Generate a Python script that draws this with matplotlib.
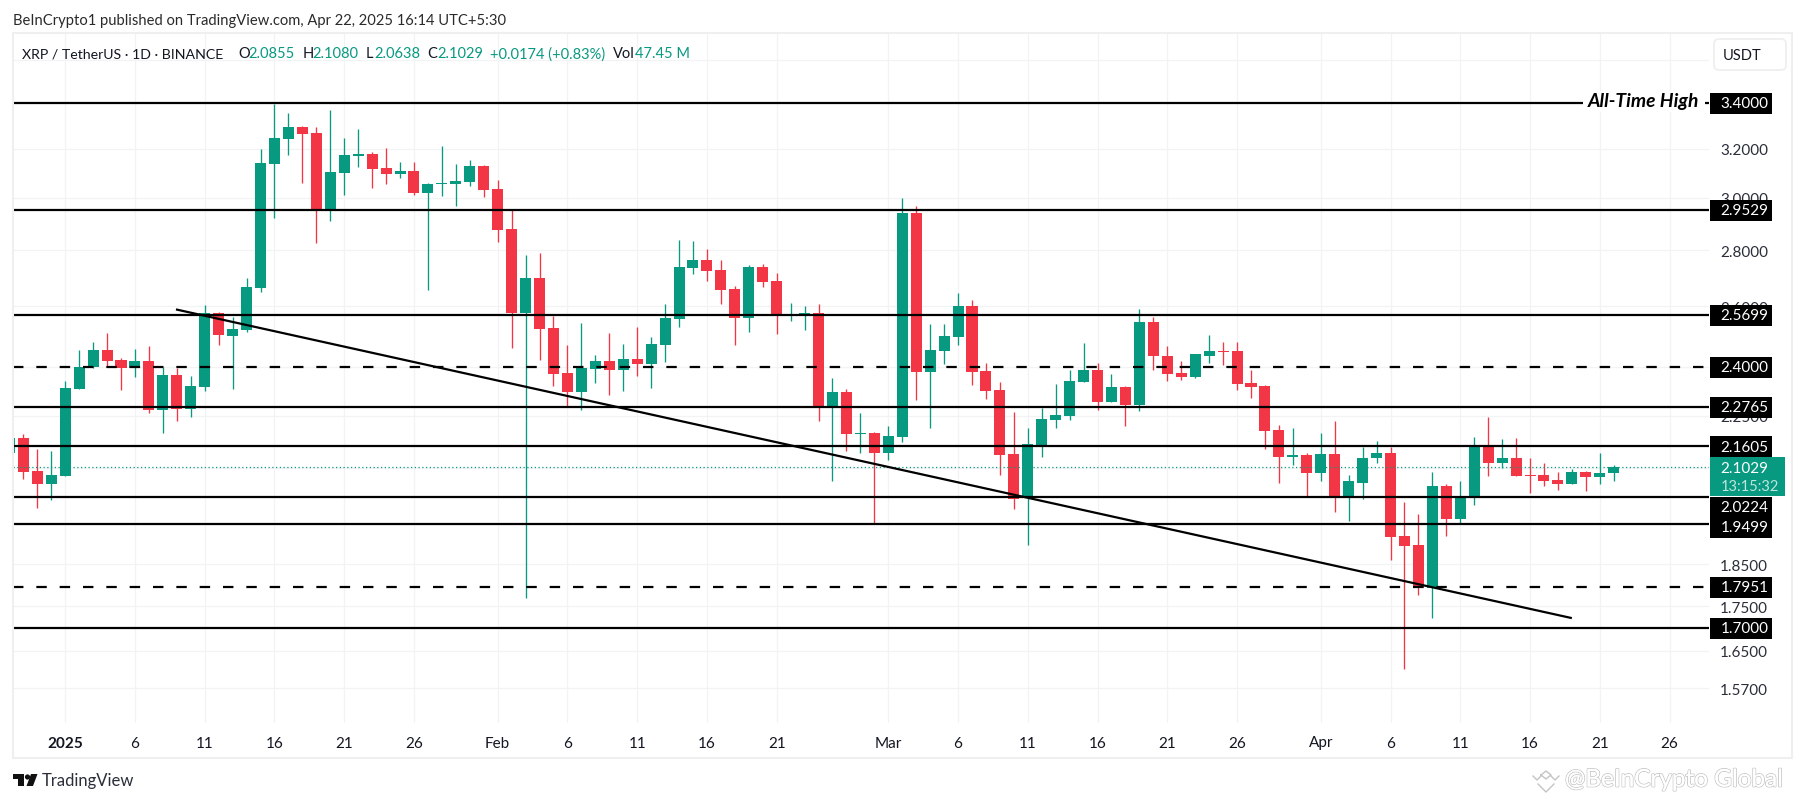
import matplotlib
matplotlib.use("Agg")
import matplotlib.pyplot as plt
import matplotlib.patheffects as pe
from matplotlib.patches import Rectangle, Polygon, Circle, FancyBboxPatch
from matplotlib.lines import Line2D
from matplotlib.transforms import Affine2D
from matplotlib.ticker import FixedLocator, NullLocator

plt.rcParams['font.family'] = ['Lato', 'DejaVu Sans']

W, H = 1804, 803

# days since 1 Jan 2025, first candle = -4
first_day = -4
opens = [2.143,2.184,2.093,2.055,2.079,2.330,2.399,2.453,2.421,2.395,2.418,2.266,2.373,2.269,2.336,2.576,2.499,2.519,2.663,3.137,
         3.242,3.294,3.268,2.952,3.100,3.170,3.178,3.120,3.096,3.108,3.019,3.055,3.055,3.063,3.128,3.035,2.879,2.576,2.698,2.526,
         2.380,2.321,2.392,2.418,2.389,2.424,2.408,2.469,2.555,2.734,2.763,2.727,2.660,2.559,2.738,2.688,2.569,2.573,2.576,2.278,
         2.321,2.195,2.198,2.141,2.187,2.940,2.383,2.450,2.496,2.600,2.386,2.327,2.138,2.022,2.166,2.236,2.248,2.352,2.389,2.290,
         2.336,2.281,2.546,2.434,2.380,2.367,2.434,2.450,2.450,2.349,2.339,2.207,2.132,2.135,2.085,2.138,2.022,2.060,2.127,2.143,
         1.920,1.898,1.793,2.052,1.962,2.022,2.161,2.115,2.127,2.082,2.082,2.066,2.057,2.088,2.074,2.0855]
highs = [2.184,2.195,2.152,2.149,2.355,2.453,2.479,2.509,2.427,2.456,2.466,2.399,2.395,2.370,2.603,2.580,2.562,2.698,3.199,3.396,
         3.355,3.299,3.294,3.369,3.247,3.285,3.187,3.204,3.145,3.145,3.059,3.212,3.137,3.153,3.132,3.071,2.952,2.782,2.789,2.566,
         2.469,2.542,2.437,2.509,2.473,2.529,2.496,2.607,2.837,2.833,2.804,2.763,2.670,2.745,2.749,2.716,2.611,2.600,2.607,2.364,
         2.330,2.257,2.201,2.219,2.999,2.967,2.539,2.539,2.645,2.621,2.411,2.352,2.260,2.213,2.272,2.346,2.389,2.476,2.411,2.377,
         2.339,2.590,2.562,2.466,2.418,2.442,2.502,2.479,2.479,2.389,2.342,2.224,2.213,2.141,2.198,2.233,2.082,2.158,2.175,2.158,
         2.009,1.975,2.088,2.055,2.063,2.187,2.245,2.181,2.184,2.129,2.113,2.088,2.096,2.093,2.141,2.1080]
lows = [2.143,2.071,1.993,2.012,2.079,2.330,2.395,2.399,2.327,2.367,2.257,2.198,2.233,2.245,2.324,2.469,2.330,2.512,2.649,2.921,
        3.174,3.059,2.826,2.909,3.011,3.124,3.039,3.055,3.079,3.011,2.656,3.007,2.967,3.047,3.003,2.830,2.459,1.770,2.421,2.339,
        2.278,2.266,2.349,2.311,2.324,2.370,2.333,2.415,2.529,2.713,2.688,2.607,2.469,2.512,2.666,2.506,2.549,2.519,2.233,2.063,
        2.149,2.143,1.951,2.121,2.172,2.296,2.213,2.408,2.469,2.342,2.299,2.082,1.990,1.898,2.132,2.213,2.236,2.352,2.266,2.290,
        2.221,2.263,2.389,2.355,2.358,2.364,2.411,2.405,2.327,2.302,2.152,2.060,2.107,2.022,2.063,1.982,1.959,2.015,2.113,1.860,
        1.611,1.777,1.722,1.920,1.951,2.001,2.079,2.101,2.079,2.033,2.052,2.041,2.057,2.038,2.057,2.0638]
closes = [2.184,2.090,2.055,2.082,2.333,2.399,2.453,2.418,2.395,2.418,2.266,2.373,2.269,2.339,2.576,2.502,2.522,2.666,3.141,3.247,
          3.294,3.264,2.952,3.104,3.174,3.178,3.116,3.096,3.108,3.019,3.055,3.059,3.067,3.128,3.031,2.875,2.576,2.698,2.522,2.377,
          2.321,2.395,2.418,2.389,2.424,2.408,2.473,2.559,2.738,2.763,2.723,2.656,2.559,2.738,2.684,2.569,2.573,2.576,2.278,2.321,
          2.195,2.198,2.141,2.190,2.940,2.383,2.453,2.499,2.600,2.383,2.324,2.135,2.017,2.169,2.239,2.251,2.355,2.389,2.290,2.336,
          2.281,2.546,2.434,2.377,2.367,2.440,2.450,2.447,2.346,2.336,2.204,2.132,2.135,2.085,2.138,2.022,2.063,2.129,2.143,1.918,
          1.895,1.793,2.052,1.962,2.022,2.161,2.115,2.127,2.079,2.079,2.063,2.057,2.088,2.074,2.085,2.1029]

solid_levels = [3.4000, 2.9529, 2.5699, 2.2765, 2.1605, 2.0224, 1.9499, 1.7000]
dashed_levels = [2.4000, 1.7951]
last_price = 2.1029
countdown = "13:15:32"
label_shift = {2.0224: 10.5, 1.9499: 3.0}

trend_days = [7.94, 108.0]
trend_prices = [2.589, 1.7225]

y_ticks = [1.57, 1.65, 1.75, 1.85, 1.95, 2.10, 2.25, 2.40, 2.60, 2.80, 3.00, 3.20, 3.40, 3.60]
y_tick_labels = ["1.5700", "1.6500", "1.7500", "1.8500", "", "", "2.2500", "", "2.6000", "2.8000", "3.0000", "3.2000", "", ""]
x_ticks = [0, 5, 10, 15, 20, 25, 31, 36, 41, 46, 51, 59, 64, 69, 74, 79, 84, 90, 95, 100, 105, 110, 115]
x_labels = ["2025", "6", "11", "16", "21", "26", "Feb", "6", "11", "16", "21", "Mar", "6", "11", "16", "21", "26",
            "Apr", "6", "11", "16", "21", "26"]

GREEN = "#089981"
RED = "#F23645"
TXT = "#131722"
GRID = "#f2f3f5"

fig = plt.figure(figsize=(W / 100, H / 100), dpi=100, facecolor="white")
# overlay coordinates: reference pixels, drawn 1 px lower
T = Affine2D().translate(0, 1).scale(1 / W, -1 / H).translate(0, 1) + fig.transFigure
ax = fig.add_axes([13 / W, 1 - 724 / H, (1709 - 13) / W, (724 - 34) / H])
ax.set_yscale("log")
ax.set_xlim(-3.742, 117.83)
ax.set_ylim(1.4998, 3.729)
for s in ax.spines.values():
    s.set_visible(False)

ax.set_axisbelow(True)
ax.yaxis.set_major_locator(FixedLocator(y_ticks))
ax.yaxis.set_minor_locator(NullLocator())
ax.set_yticklabels(y_tick_labels)
ax.yaxis.tick_right()
ax.tick_params(axis="y", length=0, pad=8, labelsize=11, labelcolor="#2a2e39", which="both")
ax.set_xticks(x_ticks)
ax.set_xticklabels(x_labels)
ax.tick_params(axis="x", length=0, pad=9, labelsize=11, labelcolor=TXT)
ax.get_xticklabels()[0].set_fontweight("bold")
ax.grid(True, color=GRID, lw=0.9)

for i, (o, h, l, c) in enumerate(zip(opens, highs, lows, closes)):
    d = first_day + i
    col = GREEN if c >= o else RED
    ax.vlines(d, l, h, color=col, lw=0.95, zorder=2)
    ax.bar(d, abs(c - o), bottom=min(o, c), width=0.79, color=col, lw=0, zorder=2.5)

ax.axhline(last_price, color=GREEN, lw=0.9, ls=(0, (1, 2)), zorder=3)
for v in solid_levels:
    ax.axhline(v, color="black", lw=1.6, zorder=4)
for v in dashed_levels:
    ax.axhline(v, color="black", lw=1.6, ls=(0, (4.7, 5.8)), zorder=4)
ax.plot(trend_days, trend_prices, color="black", lw=1.6, zorder=4.5, solid_capstyle="butt")

# outer frame
fig.add_artist(Rectangle((12.5, 32.5), 1779, 725, transform=T, fill=False, ec="#efefef", lw=1.5))

# header
fig.text(13, 19.5, "BeInCrypto1 published on TradingView.com, Apr 22, 2025 16:14 UTC+5:30", transform=T,
         fontsize=10.65, color="#2a2a2a", va="center", ha="left")

# legend row
legend_name = (22.5, "XRP / TetherUS · 1D · BINANCE", TXT)
fig.text(legend_name[0], 53.5, legend_name[1], transform=T, fontsize=10.2, color=TXT, va="center", ha="left")
pieces = [
    (238, "O", TXT), (248, "2.0855", GREEN),
    (302.5, "H", TXT), (312, "2.1080", GREEN),
    (366, "L", TXT), (374, "2.0638", GREEN),
    (427.5, "C", TXT), (437, "2.1029", GREEN),
    (490, "+0.0174 (+0.83%)", GREEN),
    (613, "Vol", TXT), (635, "47.45 M", GREEN),
]
for x, s, c in pieces:
    fig.text(x, 53.5, s, transform=T, fontsize=10.5, color=c, va="center", ha="left")

# USDT button
fig.add_artist(FancyBboxPatch((1714, 39), 72, 31, boxstyle="round,pad=0,rounding_size=5", transform=T,
                              fc="white", ec="#eeeeee", lw=1.2, zorder=2))
fig.text(1742, 54.5, "USDT", transform=T, fontsize=10.5, color=TXT, va="center", ha="center", zorder=3)

# price labels
for v in solid_levels + dashed_levels:
    yp = H - ax.transData.transform((0, v))[1] + label_shift.get(v, 0.0) - 1
    fig.add_artist(Rectangle((1710, yp - 10.2), 62, 21, transform=T, fc="black", ec="none", zorder=2))
    fig.text(1720.5, yp + 0.3, f"{v:.4f}", transform=T, fontsize=11, color="white", va="center", ha="left", zorder=3)

# last price label
yl = H - ax.transData.transform((0, last_price))[1] - 1
fig.add_artist(Rectangle((1710, yl - 10), 75, 39, transform=T, fc=GREEN, ec="none", zorder=2.2))
fig.text(1720.5, yl + 0.8, f"{last_price:.4f}", transform=T, fontsize=11, color="white", va="center", ha="left", zorder=3)
fig.text(1720.5, yl + 18.8, countdown, transform=T, fontsize=10.5, color="#bfe5dd", va="center", ha="left", zorder=3)

# All-Time High annotation
fig.add_artist(Rectangle((1583, 91), 122, 21, transform=T, fc="white", ec="none", zorder=2))
fig.text(1588, 100.5, "All-Time High", transform=T, fontsize=13.9, style="italic", fontweight="bold",
         color="black", va="center", ha="left", zorder=3)

# TradingView logo
fig.add_artist(Polygon([(13, 774), (24, 774), (24, 786), (18, 786), (18, 779), (13, 779)], closed=True, transform=T,
                       fc="#111111", ec="none"))
fig.add_artist(Circle((27.5, 777), 2.6, transform=T, fc="#111111", ec="none"))
fig.add_artist(Polygon([(31, 774), (37.5, 774), (33, 786), (26.5, 786)], closed=True, transform=T, fc="#111111", ec="none"))
fig.text(42, 780, "TradingView", transform=T, fontsize=12, color="#2a2e39", va="center", ha="left")

# watermark
fig.text(1565, 780, "@BeInCrypto Global", transform=T, fontsize=17.5, color="white", va="center", ha="left",
         path_effects=[pe.withStroke(linewidth=1.2, foreground="#c4c4c4"), pe.Normal()])
wm = "#c4c4c4"
for xs, ys in [([1541, 1546, 1551, 1546, 1541], [775, 771, 775, 779, 775]),
               ([1533, 1537, 1541], [776, 780, 776]),
               ([1551, 1555, 1559], [776, 780, 776]),
               ([1538, 1546, 1554], [784, 792, 784])]:
    fig.add_artist(Line2D(xs, ys, transform=T, color=wm, lw=1.0))

fig.savefig("out.png", dpi=100, facecolor="white")
